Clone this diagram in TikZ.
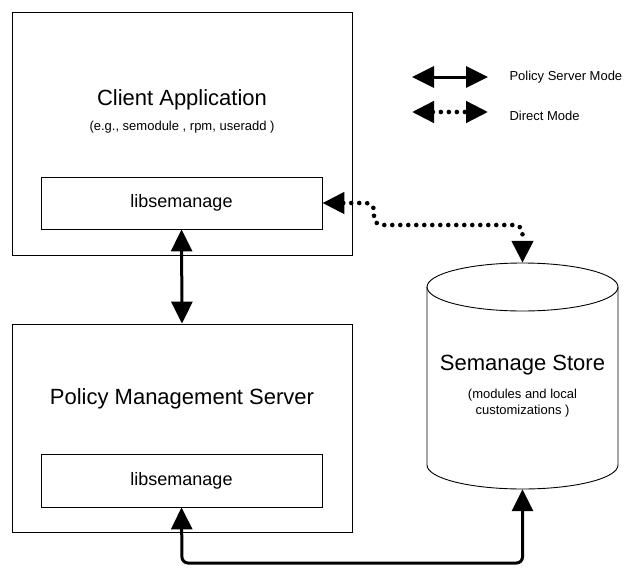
\documentclass[tikz,border=0pt]{standalone}
\usepackage{fontspec}
\setmainfont{Liberation Sans}
\usetikzlibrary{arrows.meta}
\begin{document}
\begin{tikzpicture}[x=1pt,y=1pt,
  box/.style={draw, line width=0.8pt, inner sep=0pt},
  big/.style={font=\fontsize{22}{26}\selectfont},
  small/.style={font=\fontsize{13}{16}\selectfont, align=center},
  libtext/.style={font=\fontsize{18}{22}\selectfont},
  solidarrow/.style={line width=3pt, {Triangle[length=22pt,width=21pt]}-{Triangle[length=22pt,width=21pt]}, rounded corners=6pt},
  dotarrow/.style={line width=4.6pt, line cap=round, dash pattern=on 0pt off 8pt, {Triangle[length=22pt,width=21pt]}-{Triangle[length=22pt,width=21pt]}, rounded corners=8pt}
]
\useasboundingbox (0,0) rectangle (626,-570);
% client
\node[box, minimum width=340pt, minimum height=243pt] (client) at (182,-133.5) {};
\node[big] (clientt) at (182,-100) {Client Application};
\node[small] (clients) at (182,-127) {(e.g., semodule , rpm, useradd )};
\node[box, minimum width=281pt, minimum height=52pt, libtext] (lib1) at (181.5,-203) {libsemanage};
% server
\node[box, minimum width=340pt, minimum height=208pt] (server) at (182,-428) {};
\node[big] (servert) at (182,-399) {Policy Management Server};
\node[box, minimum width=281pt, minimum height=53pt, libtext] (lib2) at (181.5,-480.5) {libsemanage};
% store cylinder
\node[minimum width=191pt, minimum height=226pt, inner sep=0pt] (store) at (522.5,-376) {};
\draw[line width=0.9pt] (522.5,-287) ellipse [x radius=95.5, y radius=24];
\draw[line width=0.9pt] (427,-287) -- (427,-465) arc[start angle=180, end angle=360, x radius=95.5, y radius=24] -- (618,-287);
\node[big] (storet) at (522.5,-365) {Semanage Store};
\node[small] (stores) at (522.5,-403) {(modules and local\\ customizations )};
% connectors
\draw[solidarrow] (lib1.south) -- (server.north);
\draw[solidarrow] (lib2.south) -- (182,-563) -- (522.5,-563) -- (store.south);
\draw[dotarrow] (lib1.east) -- (374,-203) -- (374,-225) -- (522.5,-225) -- (store.north);
% legend
\coordinate (la) at (412,-77);
\coordinate (lb) at (488,-77);
\coordinate (lc) at (412,-112);
\coordinate (ld) at (488,-112);
\draw[solidarrow] (la) -- (lb);
\draw[dotarrow] (lc) -- (ld);
\node[small, anchor=west] (lt1) at (506,-77) {Policy Server Mode};
\node[small, anchor=west] (lt2) at (506,-116) {Direct Mode};
\end{tikzpicture}
\end{document}
